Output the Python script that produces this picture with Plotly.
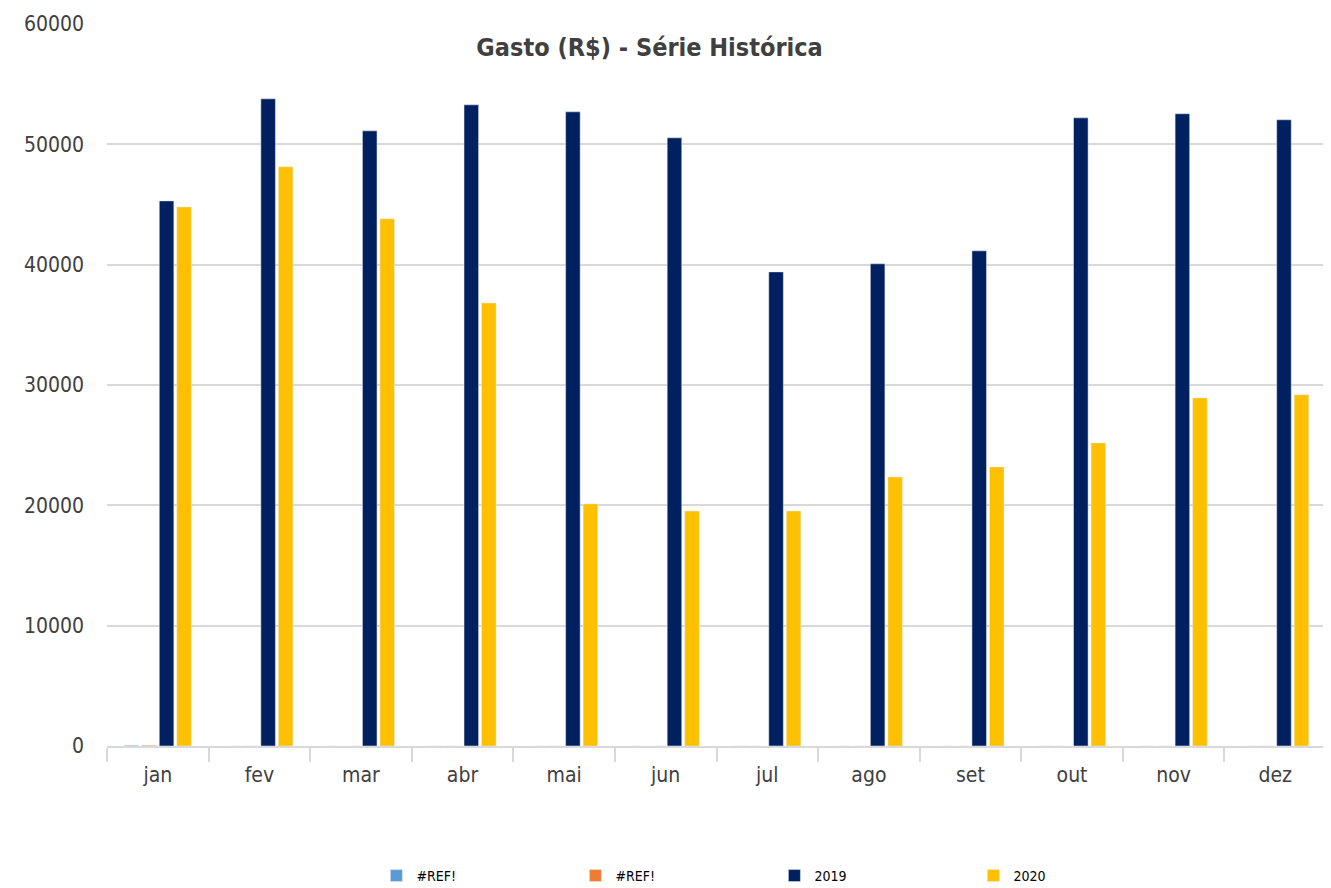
import plotly.graph_objects as go

months = ["jan", "fev", "mar", "abr", "mai", "jun", "jul", "ago", "set", "out", "nov", "dez"]
ref1 = [60, 0, 0, 0, 0, 0, 0, 0, 0, 0, 0, 0]
ref2 = [60, 0, 0, 0, 0, 0, 0, 0, 0, 0, 0, 0]
y2019 = [45300, 53780, 51120, 53280, 52700, 50540, 39400, 40070, 41150, 52200, 52540, 52040]
y2020 = [44800, 48130, 43810, 36820, 20120, 19530, 19530, 22360, 23190, 25190, 28930, 29180]
yticks = [0, 10000, 20000, 30000, 40000, 50000, 60000]
yticklabels = ["0", "10000", "20000", "30000", "40000", "50000", "60000"]

FONT = "DejaVu Sans Condensed, Liberation Sans Narrow, Arial Narrow, sans-serif"

fig = go.Figure()
fig.add_bar(x=months, y=ref1, name="#REF!", marker_color="#5B9BD5")
fig.add_bar(x=months, y=ref2, name="#REF!", marker_color="#ED7D31")
fig.add_bar(x=months, y=y2019, name="2019", marker_color="#002060")
fig.add_bar(x=months, y=y2020, name="2020", marker_color="#FFC000")

fig.update_layout(
    width=1331, height=888,
    paper_bgcolor="white", plot_bgcolor="white",
    margin=dict(l=99, r=13, t=16, b=150, autoexpand=False),
    barmode="group", bargap=0.31, bargroupgap=0.17,
    font=dict(family=FONT, color="#404040"),
    title=dict(text="<b>Gasto (R$) - Série Histórica</b>", x=0.482, xanchor="center",
               y=1 - 39/888, yanchor="middle", font=dict(size=25, color="#404040", family=FONT)),
    legend=dict(orientation="h", x=0.221, xanchor="left", y=-0.18, yanchor="middle",
                entrywidth=154, entrywidthmode="pixels",
                font=dict(size=14, color="#000000", family=FONT),
                itemwidth=30),
    showlegend=True,
)
fig.update_yaxes(range=[0, 60000], tickvals=yticks, ticktext=yticklabels, showgrid=True,
                 gridcolor="#D9D9D9", gridwidth=1.5,
                 zeroline=False, showline=False, tickfont=dict(size=21, color="#404040"),
                 ticks="", ticklabelstandoff=22)
fig.update_xaxes(showline=True, linecolor="#D9D9D9", linewidth=1.5, ticks="outside", tickson="boundaries",
                 tickcolor="#D9D9D9", ticklen=14, tickwidth=1.5, tickfont=dict(size=21, color="#404040"),
                 ticklabelstandoff=9)

fig.write_html("out.html")
